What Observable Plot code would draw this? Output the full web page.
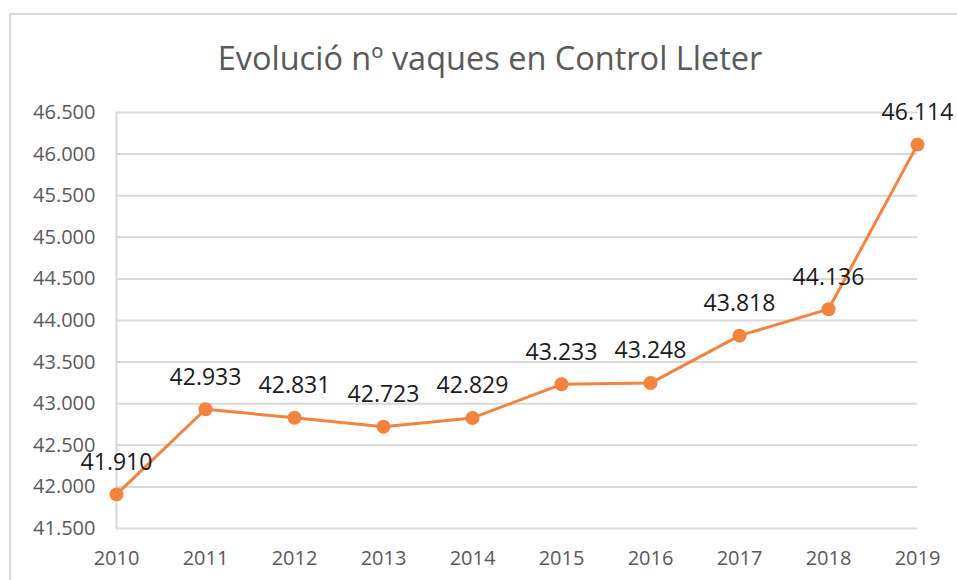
<!DOCTYPE html>
<html>
<head>
<meta charset="utf-8">
<script src="https://cdn.jsdelivr.net/npm/d3@7"></script>
<script src="https://cdn.jsdelivr.net/npm/@observablehq/plot@0.6"></script>
<style>
  html, body { margin: 0; padding: 0; background: #fff; }
  body { width: 957px; height: 580px; position: relative; overflow: hidden; font-family: "Open Sans", sans-serif; }
  #frame { position: absolute; left: 9px; top: 13px; width: 980px; height: 600px; border: 2px solid #d9d9d9; box-sizing: border-box; }
  #title { position: absolute; left: 0; top: 35px; width: 980px; text-align: center; font-size: 32.5px; color: #595959; font-family: "Open Sans", sans-serif; white-space: nowrap; }
  #chart { position: absolute; left: 0; top: 0; }
</style>
</head>
<body>
<div id="frame"></div>
<div id="title">Evolució nº vaques en Control Lleter</div>
<div id="chart"></div>
<script>
const years = ["2010","2011","2012","2013","2014","2015","2016","2017","2018","2019"];
const cows = [41910, 42933, 42831, 42723, 42829, 43233, 43248, 43818, 44136, 46114];
const yTicks = [41500, 42000, 42500, 43000, 43500, 44000, 44500, 45000, 45500, 46000, 46500];

const fmt = d => d3.format(",.0f")(d).replace(/,/g, ".");
const data = years.map((y, i) => ({year: y, value: cows[i]}));
const orange = "#f4833e";

const chart = Plot.plot({
  width: 957,
  height: 580,
  marginLeft: 116,
  marginRight: 40,
  marginTop: 112,
  marginBottom: 52,
  style: {fontFamily: "Open Sans, sans-serif", background: "transparent", overflow: "visible"},
  x: {type: "point", domain: years, padding: 0, label: null},
  y: {domain: [41500, 46500], label: null},
  marks: [
    Plot.gridY(yTicks, {stroke: "#d9d9d9", strokeOpacity: 1, strokeWidth: 2}),
    Plot.frame({anchor: "left", stroke: "#d9d9d9", strokeWidth: 2}),
    Plot.axisY(yTicks, {tickSize: 0, tickPadding: 21, tickFormat: fmt, fontSize: 20, fill: "#595959"}),
    Plot.axisX(years, {tickSize: 0, tickPadding: 22, fontSize: 20, fill: "#595959"}),
    Plot.line(data, {x: "year", y: "value", stroke: orange, strokeWidth: 3}),
    Plot.dot(data, {x: "year", y: "value", fill: orange, r: 7}),
    Plot.text(data, {x: "year", y: "value", text: d => fmt(d.value), dy: -32, fontSize: 23, fill: "#1a1a1a"})
  ]
});
document.getElementById("chart").appendChild(chart);
</script>
</body>
</html>
